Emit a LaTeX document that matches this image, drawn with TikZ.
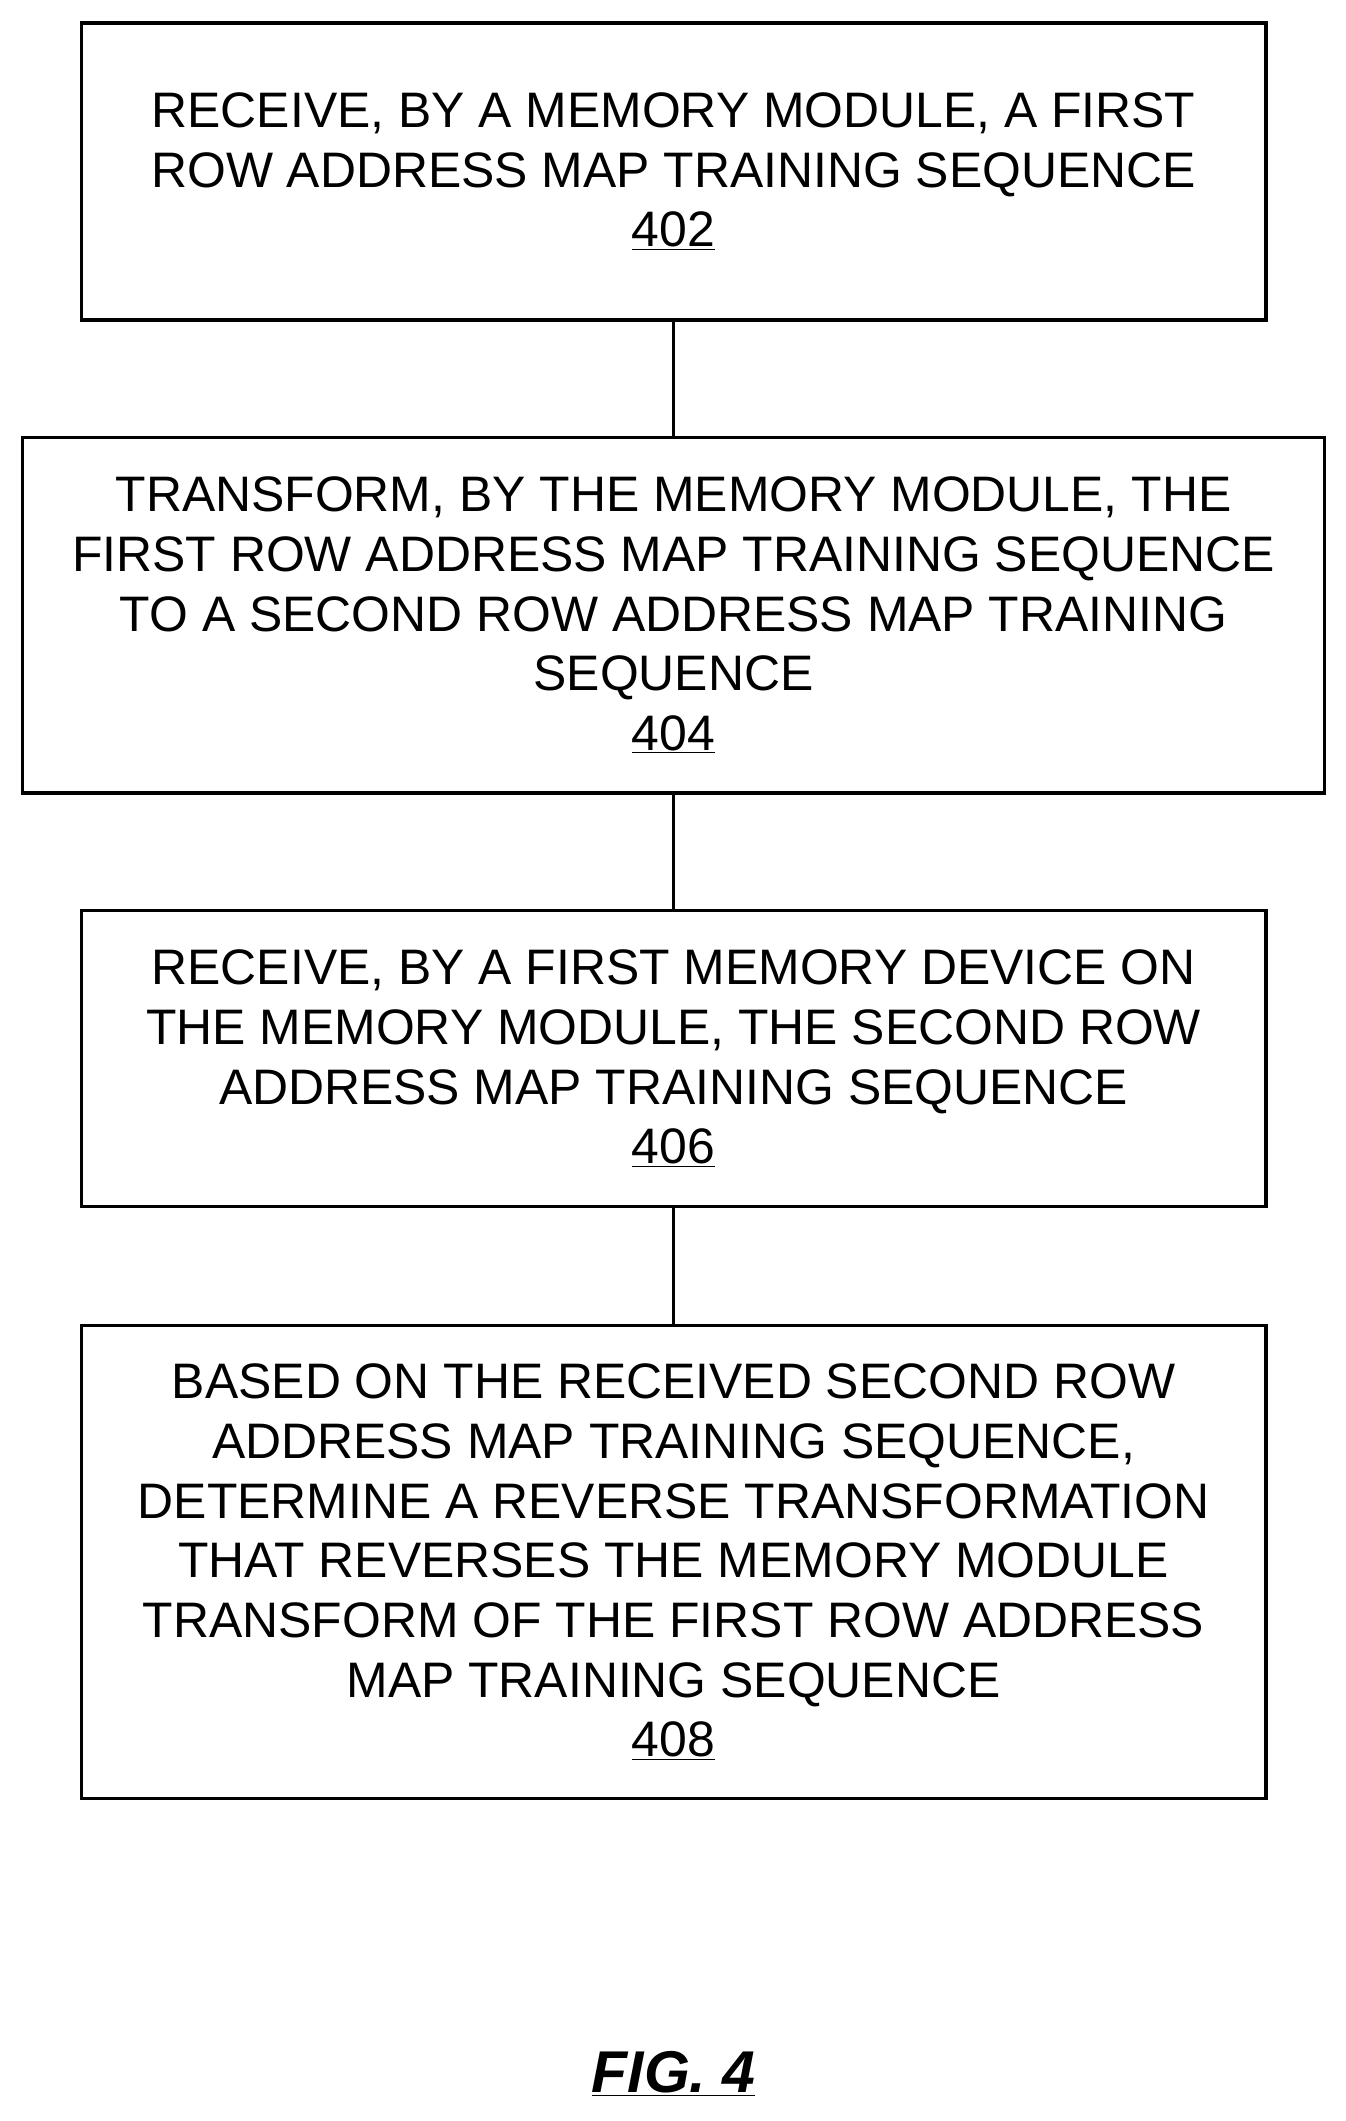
\documentclass[tikz,border=0pt]{standalone}
\usepackage{fontspec}
\setmainfont{Liberation Sans}
\usetikzlibrary{positioning}
\tikzset{stepbox/.style={draw, line width=2.5pt, align=center, font=\fontsize{36.8}{44}\selectfont}}
\begin{document}
\begin{tikzpicture}[x=1pt, y=-1pt]
\useasboundingbox (0,0) rectangle (993,1565);
% boxes
\node[stepbox, minimum width=874pt, minimum height=219pt] (402) at (497,126.5)
  {RECEIVE, BY A MEMORY MODULE, A FIRST\\ROW ADDRESS MAP TRAINING SEQUENCE\\\underline{402}};
\node[stepbox, minimum width=961pt, minimum height=262pt] (404) at (497,454)
  {TRANSFORM, BY THE MEMORY MODULE, THE\\FIRST ROW ADDRESS MAP TRAINING SEQUENCE\\TO A SECOND ROW ADDRESS MAP TRAINING\\SEQUENCE\\\underline{404}};
\node[stepbox, minimum width=874pt, minimum height=218pt] (406) at (497,781)
  {RECEIVE, BY A FIRST MEMORY DEVICE ON\\THE MEMORY MODULE, THE SECOND ROW\\ADDRESS MAP TRAINING SEQUENCE\\\underline{406}};
\node[stepbox, minimum width=874pt, minimum height=349pt] (408) at (497,1152.5)
  {BASED ON THE RECEIVED SECOND ROW\\ADDRESS MAP TRAINING SEQUENCE,\\DETERMINE A REVERSE TRANSFORMATION\\THAT REVERSES THE MEMORY MODULE\\TRANSFORM OF THE FIRST ROW ADDRESS\\MAP TRAINING SEQUENCE\\\underline{408}};
% connectors
\draw[line width=2.5pt] (402) -- (404);
\draw[line width=2.5pt] (404) -- (406);
\draw[line width=2.5pt] (406) -- (408);
\node[font=\fontsize{43.5}{50}\selectfont\bfseries\itshape] (fig) at (497,1530) {\underline{FIG. 4}};
\end{tikzpicture}
\end{document}
